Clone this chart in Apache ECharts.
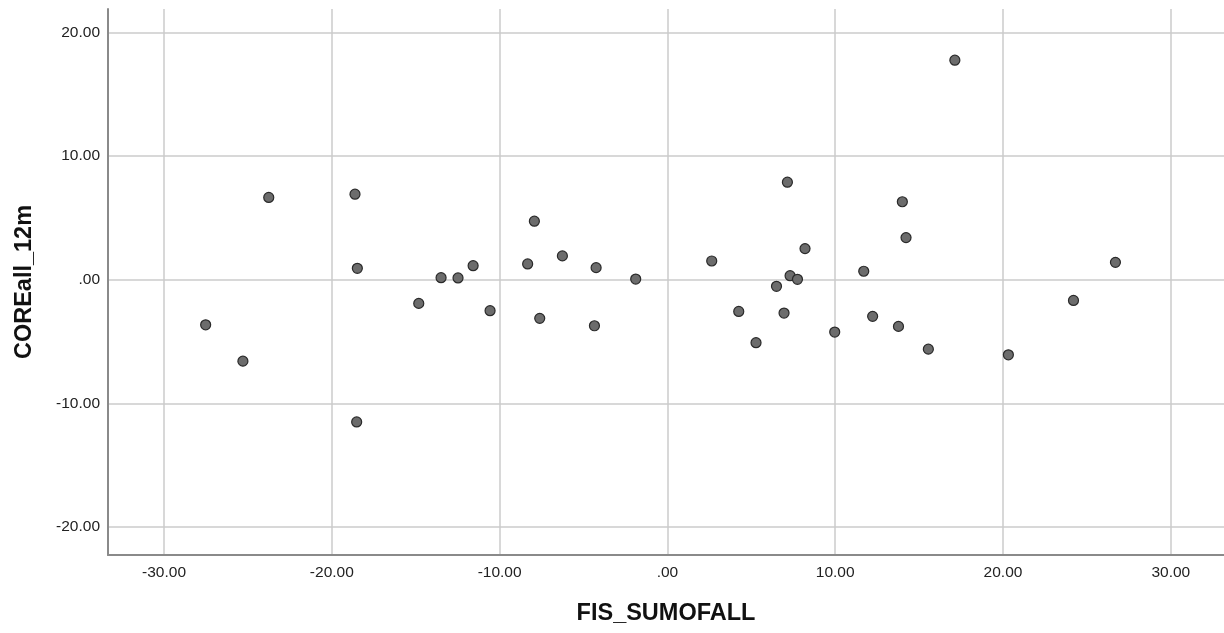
<!DOCTYPE html>
<html>
<head>
<meta charset="utf-8">
<script src="https://cdn.jsdelivr.net/npm/echarts@6/dist/echarts.min.js"></script>
<style>
  html, body { margin: 0; padding: 0; background: #fff; }
  #main { width: 1224px; height: 633px; }
</style>
</head>
<body>
<div id="main"></div>
<script>
// FIS_SUMOFALL (x) vs COREall_12m (y), one entry per case
var fisSum = [
    -27.52, -25.30, -23.76, -18.62, -18.48, -18.52, -14.82, -13.49, -12.48, -11.58,
    -10.57, -8.33, -7.93, -7.61, -6.26, -4.25, -4.35, -1.89, 2.64, 4.25,
    5.28, 6.50, 6.95, 7.15, 7.31, 7.75, 8.20, 9.97, 11.70, 12.23,
    14.00, 14.22, 13.77, 15.55, 17.13, 20.32, 24.20, 26.70
];
var coreAll = [
    -3.65, -6.59, 6.65, 6.91, 0.92, -11.51, -1.92, 0.16, 0.14, 1.13,
    -2.51, 1.27, 4.73, -3.13, 1.92, 0.97, -3.73, 0.05, 1.51, -2.57,
    -5.10, -0.54, -2.70, 7.88, 0.32, 0.03, 2.51, -4.24, 0.68, -2.97,
    6.30, 3.40, -3.78, -5.62, 17.75, -6.08, -1.68, 1.40
];
var xRange = [-33.34, 33.17];
var yRange = [-22.27, 21.89];

var points = fisSum.map(function (x, i) { return [x, coreAll[i]]; });

function fmt(v) {
    if (Math.abs(v % 10) > 1e-6) return '';
    if (v === 0) return '.00';
    return v.toFixed(2);
}

var font = "'Liberation Sans', Arial, sans-serif";

var option = {
    animation: false,
    backgroundColor: '#fff',
    grid: { left: 108, right: 0, top: 9, bottom: 78 },
    xAxis: {
        type: 'value',
        min: xRange[0],
        max: xRange[1],
        minInterval: 10,
        maxInterval: 10,
        name: 'FIS_SUMOFALL',
        nameLocation: 'middle',
        nameGap: 47,
        nameTextStyle: { fontFamily: font, fontSize: 23.5, fontWeight: 'bold', color: '#111' },
        axisLine: { show: true, onZero: false, lineStyle: { color: '#8a8a8a', width: 2 } },
        axisTick: { show: false },
        axisLabel: { formatter: fmt, margin: 10, fontFamily: font, fontSize: 15.5, color: '#222',
                     showMinLabel: false, showMaxLabel: false },
        splitLine: { show: true, showMinLine: false, showMaxLine: false,
                     lineStyle: { color: '#cbcbcb', width: 1.5 } }
    },
    yAxis: {
        type: 'value',
        min: yRange[0],
        max: yRange[1],
        minInterval: 10,
        maxInterval: 10,
        name: 'COREall_12m',
        nameLocation: 'middle',
        nameGap: 71,
        nameTextStyle: { fontFamily: font, fontSize: 23.5, fontWeight: 'bold', color: '#111' },
        axisLine: { show: true, onZero: false, lineStyle: { color: '#8a8a8a', width: 2 } },
        axisTick: { show: false },
        axisLabel: { formatter: fmt, margin: 8, fontFamily: font, fontSize: 15.5, color: '#222',
                     padding: [4, 0, 0, 0],
                     showMinLabel: false, showMaxLabel: false },
        splitLine: { show: true, showMinLine: false, showMaxLine: false,
                     lineStyle: { color: '#cbcbcb', width: 1.5 } }
    },
    series: [{
        type: 'scatter',
        data: points,
        symbol: 'circle',
        symbolSize: 10,
        itemStyle: { color: '#6c6c6c', borderColor: '#2a2a2a', borderWidth: 1.2, opacity: 1 }
    }]
};

echarts.init(document.getElementById('main')).setOption(option);
</script>
</body>
</html>
